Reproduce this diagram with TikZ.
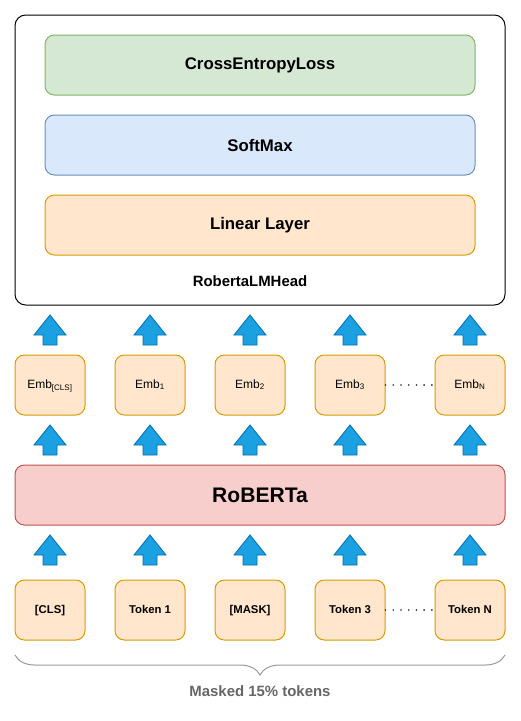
\documentclass[tikz,border=0pt]{standalone}
\usepackage{fontspec}
\setmainfont{Liberation Sans}
\usetikzlibrary{positioning,decorations.pathreplacing}
\definecolor{lossfill}{HTML}{D5E8D4}
\definecolor{lossline}{HTML}{82B366}
\definecolor{softfill}{HTML}{DAE8FC}
\definecolor{softline}{HTML}{6C8EBF}
\definecolor{embfill}{HTML}{FFE6CC}
\definecolor{embline}{HTML}{D79B00}
\definecolor{bertfill}{HTML}{F8CECC}
\definecolor{bertline}{HTML}{B85450}
\definecolor{arrowfill}{HTML}{1BA1E2}
\definecolor{arrowline}{HTML}{006EAF}
\definecolor{bracegrey}{HTML}{999999}
\definecolor{notegrey}{HTML}{666666}

\begin{document}
\begin{tikzpicture}[x=0.75pt, y=-0.75pt,
                      layer/.style = {
                        rectangle, rounded corners=7pt, line width=0.75pt,
                        inner sep=0pt, minimum width=322.5pt, minimum height=45pt,
                        font=\fontsize{12.6}{15}\selectfont\bfseries
                      },
                      headbox/.style = {
                        rectangle, rounded corners=8pt, line width=0.75pt,
                        draw=black, inner sep=0pt,
                        minimum width=367.5pt, minimum height=217.5pt
                      },
                      bert/.style = {
                        layer, fill=bertfill, draw=bertline,
                        minimum width=367.5pt,
                        font=\fontsize{15.8}{18}\selectfont\bfseries
                      },
                      emb/.style = {
                        rectangle, rounded corners=7pt, line width=0.75pt,
                        fill=embfill, draw=embline, inner sep=0pt,
                        minimum width=52.5pt, minimum height=45pt,
                        text height=6.5pt, text depth=1.5pt,
                        font=\fontsize{9}{11}\selectfont
                      },
                      token/.style = {
                        emb, font=\fontsize{8.5}{10}\selectfont\bfseries
                      },
                      dots/.style = {
                        line width=1.4pt, line cap=round,
                        dash pattern=on 0pt off 5.8pt, draw=black!85
                      },
                      masked/.style = {
                        decorate, decoration={brace, mirror, amplitude=15pt},
                        line width=0.75pt, draw=bracegrey
                      },
                      uparrow/.pic = {
                        \path[fill=arrowfill, draw=arrowline, line width=0.6pt]
                          (-7,0) -- (-7,-10) -- (-16,-10) -- (0,-30)
                          -- (16,-10) -- (7,-10) -- (7,0) -- cycle;
                      }]
    \useasboundingbox (0,0) rectangle (521,721);

    % LM head
    \node(head) [headbox] at (260,160) {};
    \node(loss) [layer, fill=lossfill, draw=lossline] at (260,65) {CrossEntropyLoss};
    \node(softmax) [layer, fill=softfill, draw=softline] at (260,145) {SoftMax};
    \node(linear) [layer, fill=embfill, draw=embline] at (260,225) {Linear Layer};
    \node(headname) [font=\fontsize{11.2}{13}\selectfont\bfseries] at (250,281) {RobertaLMHead};

    % embeddings
    \node(emb0) [emb] at (50,385) {Emb\textsubscript{[CLS]}};
    \node(emb1) [emb] at (150,385) {Emb\textsubscript{1}};
    \node(emb2) [emb] at (250,385) {Emb\textsubscript{2}};
    \node(emb3) [emb] at (350,385) {Emb\textsubscript{3}};
    \node(embN) [emb] at (470,385) {Emb\textsubscript{N}};

    \node(roberta) [bert] at (260,495) {RoBERTa};

    % tokens
    \node(tok0) [token] at (50,610) {[CLS]};
    \node(tok1) [token] at (150,610) {Token 1};
    \node(tok2) [token] at (250,610) {[MASK]};
    \node(tok3) [token] at (350,610) {Token 3};
    \node(tokN) [token] at (470,610) {Token N};

    \draw[dots] (emb3) -- (embN);
    \draw[dots] (tok3) -- (tokN);

    \foreach \cx in {50,150,250,350,470}
      \foreach \by in {345,455,565}
        \pic at (\cx,\by) {uparrow};

    \coordinate (braceL) at (15,655);
    \coordinate (braceR) at (505,655);
    \draw[masked] (braceL) -- (braceR);
    \node(note) [text=notegrey, font=\fontsize{11.2}{13}\selectfont\bfseries] at (260,691) {Masked 15\% tokens};
  \end{tikzpicture}
\end{document}
